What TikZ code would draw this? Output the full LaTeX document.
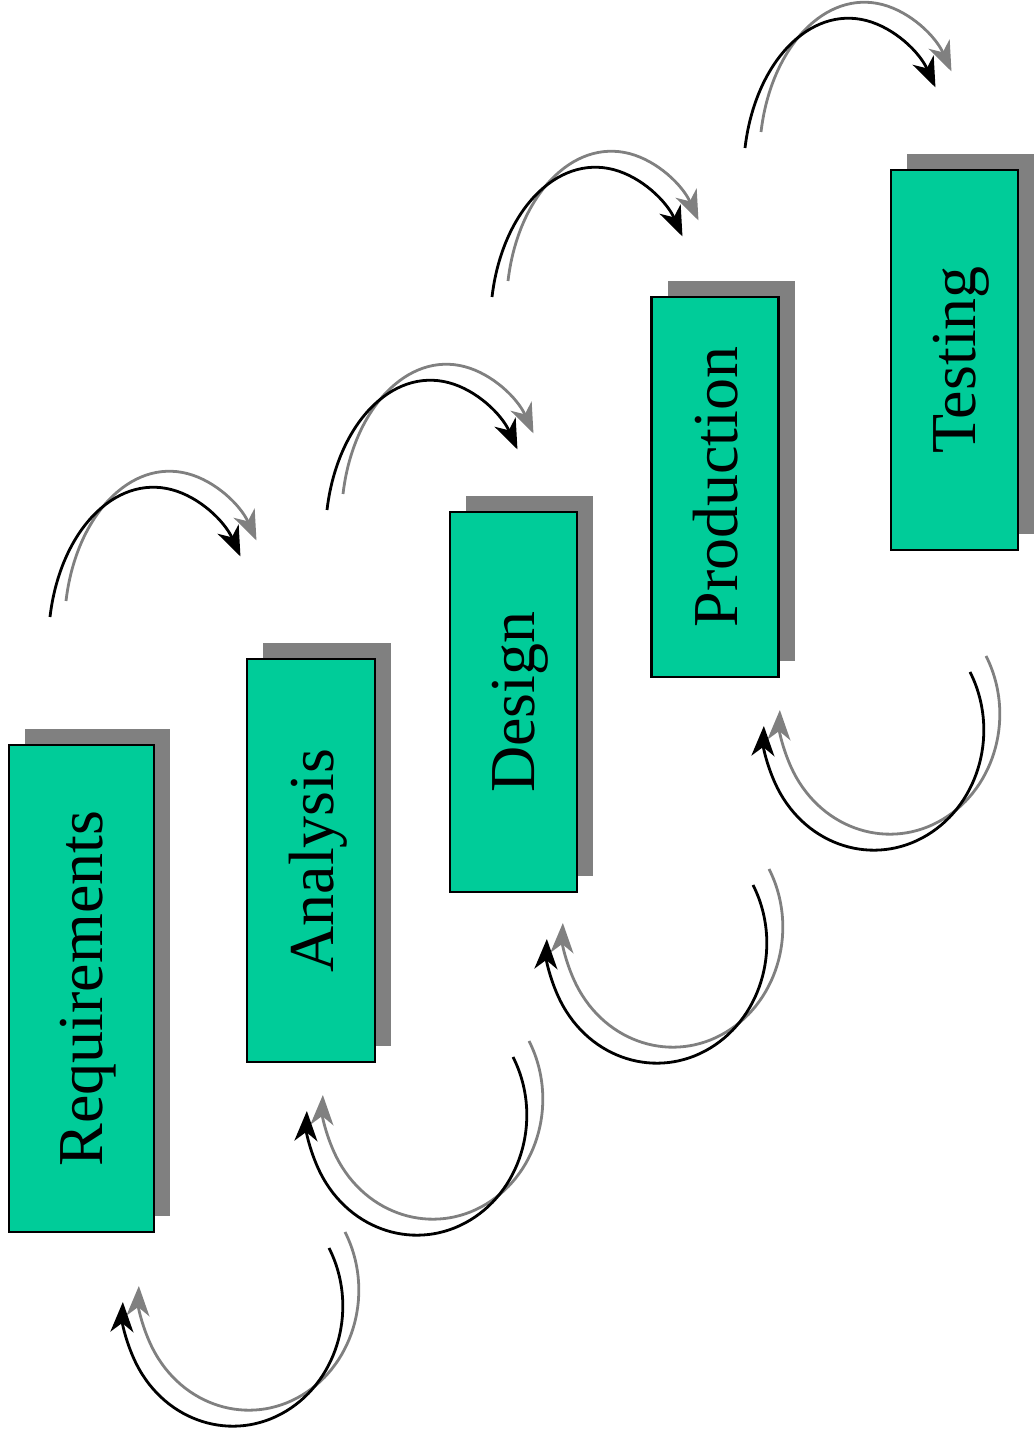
\documentclass[tikz,border=0pt]{standalone}
\usepackage{fontspec}
\setmainfont{Liberation Serif}
\usetikzlibrary{arrows.meta,shadows}
\definecolor{stagegreen}{HTML}{00CC99}
\definecolor{shadowgray}{HTML}{808080}
\newcommand{\upright}[1]{\rotatebox{90}{\raisebox{0pt}[\height][0pt]{#1}}}

\begin{document}
\begin{tikzpicture}[x=0.5pt,y=0.5pt,
  stage/.style={draw,line width=1.4pt,fill=stagegreen,inner sep=0pt,
    general shadow={fill=shadowgray,shadow xshift=8pt,shadow yshift=8pt},
    font=\fontsize{32}{38}\selectfont},
  hop/.style={line width=1.4pt,-{Stealth[length=15pt,width=11.5pt,inset=4.5pt]}},
  echo/.style={hop,draw=shadowgray}]
  \useasboundingbox (0,0) rectangle (1034,1439);

  % the stages
  \node[stage,minimum width=72.5pt,minimum height=243.5pt] (req) at (81.5,450.5) {\upright{Requirements}};
  \node[stage,minimum width=64pt,minimum height=201.5pt] (ana) at (311,578.5) {\upright{Analysis}};
  \node[stage,minimum width=63.5pt,minimum height=190pt] (des) at (513.5,737) {\upright{Design}};
  \node[stage,minimum width=63.5pt,minimum height=190pt] (prod) at (715,952) {\upright{Production}};
  \node[stage,minimum width=63.5pt,minimum height=190pt] (test) at (954.5,1079) {\upright{Testing}};

  % forward arcs
  \foreach \i/\x/\y in {1/50/822,2/327/929,3/492/1142,4/745/1291} {
    \coordinate (fwd\i) at (\x,\y);
    \draw[echo] ([shift={(16,16)}]fwd\i) arc[start angle=170,end angle=34,x radius=105,y radius=157];
    \draw[hop] (fwd\i) arc[start angle=170,end angle=34,x radius=105,y radius=157];
  }

  % backward arcs
  \foreach \i/\x/\y in {1/329/191,2/513/382,3/753/554,4/970/767} {
    \coordinate (back\i) at (\x,\y);
    \draw[echo] ([shift={(16,16)}]back\i) arc[start angle=29,end angle=-182,x radius=110,y radius=120];
    \draw[hop] (back\i) arc[start angle=29,end angle=-182,x radius=110,y radius=120];
  }
\end{tikzpicture}
\end{document}
